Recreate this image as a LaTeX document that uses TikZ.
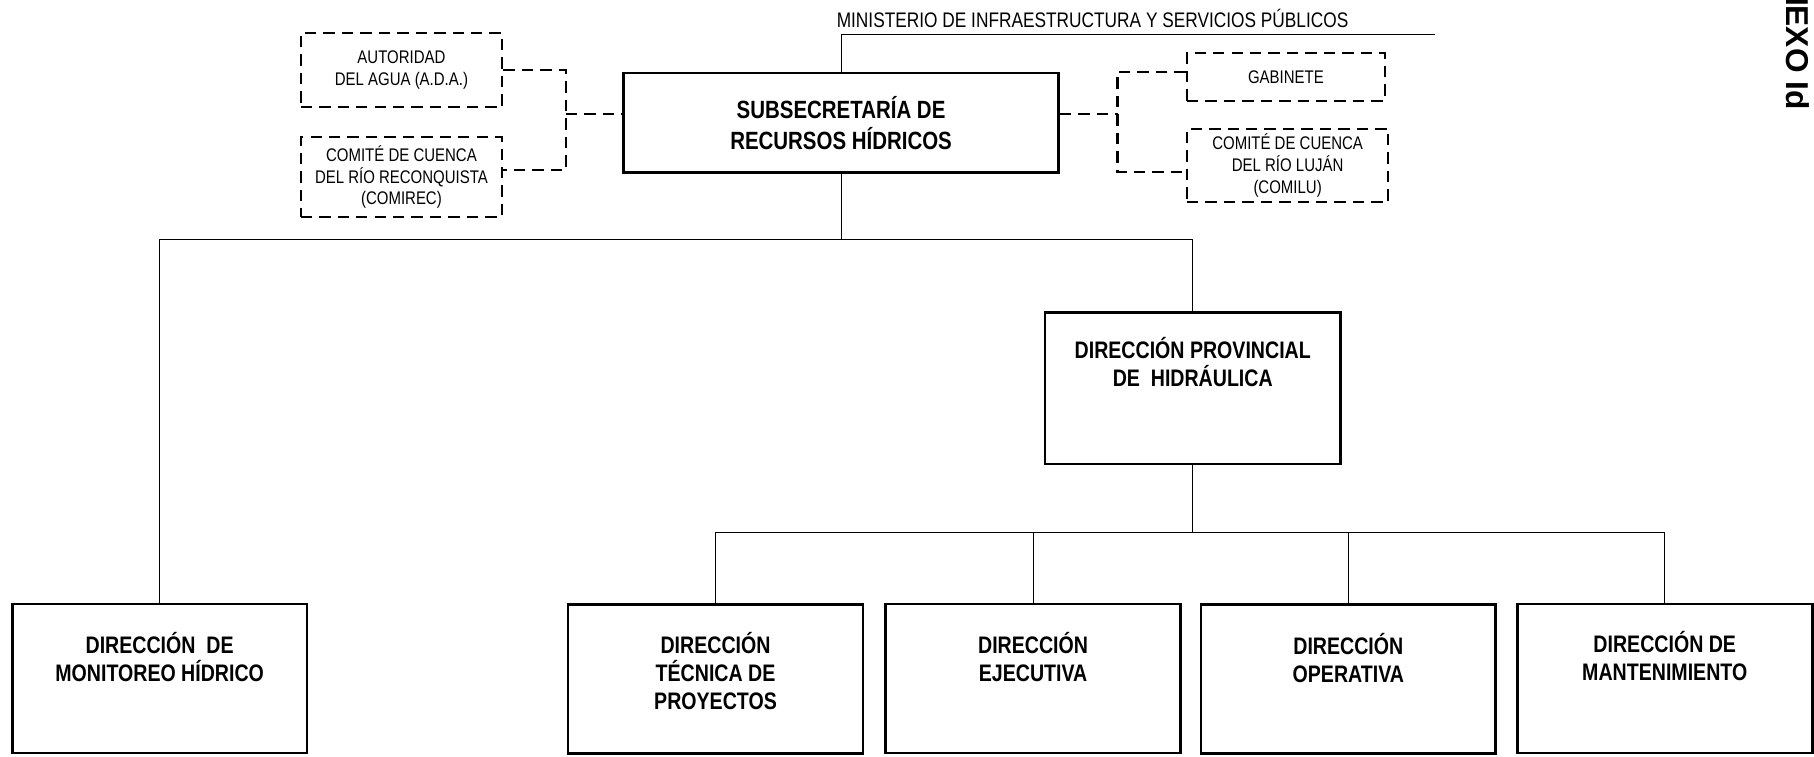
\documentclass[tikz,border=0pt]{standalone}
\usepackage{fontspec}
\setmainfont{Liberation Sans}[FakeStretch=0.82]
\newfontfamily\anexofont{Liberation Sans}
\usetikzlibrary{positioning}

\tikzset{
  orgln/.style={line width=0.6pt},
  dashln/.style={line width=1.3pt, dash pattern=on 6.5pt off 4pt},
  mainbox/.style={draw, line width=1.5pt, inner sep=0pt, align=center},
  dirbox/.style={mainbox, minimum width=5.9cm, minimum height=2.98cm},
  auxbox/.style={dashln, draw, inner sep=0pt, align=center, minimum width=4.03cm,
    font=\fontsize{10.4}{12.5}\selectfont},
  dirtxt/.style={align=center, inner sep=0pt, font=\bfseries\fontsize{13.6}{15.8}\selectfont},
}

\begin{document}
\begin{tikzpicture}[x=0.02314cm, y=-0.02314cm]
\useasboundingbox (0,0) rectangle (1568,653.5);

\node[mainbox, minimum width=8.7cm, minimum height=1.99cm,
  font=\bfseries\fontsize{14.2}{17.7}\selectfont] (sub) at (727,106)
  {SUBSECRETARÍA DE\\RECURSOS HÍDRICOS};
\node[anchor=base west, inner sep=0pt, font=\fontsize{12}{14}\selectfont] (min) at (723,24)
  {MINISTERIO DE INFRAESTRUCTURA Y SERVICIOS PÚBLICOS};
\coordinate (minr) at (1240,30);
\draw[orgln] (sub.north) |- (minr);

\node[auxbox, minimum height=1.48cm] (ada) at (347,60.5) {AUTORIDAD\\DEL AGUA (A.D.A.)};
\node[auxbox, minimum height=1.59cm] (comirec) at (347,153)
  {COMITÉ DE CUENCA\\DEL RÍO RECONQUISTA\\(COMIREC)};
\node[auxbox, minimum width=3.96cm, minimum height=0.95cm] (gab) at (1111.5,66.5) {GABINETE};
\node[auxbox, minimum height=1.47cm] (comilu) at (1113,143)
  {COMITÉ DE CUENCA\\DEL RÍO LUJÁN\\(COMILU)};

\coordinate (lbr) at (489,98.5);
\coordinate (rbr) at (966,98.5);
\draw[dashln] (ada.east) -| (lbr) |- ([yshift=0.14cm]comirec.east);
\draw[dashln] (lbr) -- (lbr -| sub.west);
\draw[dashln] ([yshift=0.1cm]gab.west) -| (rbr) |- ([yshift=-0.13cm]comilu.west);
\draw[dashln] (sub.east |- rbr) -- (rbr);

\node[mainbox, minimum width=5.92cm, minimum height=3.03cm] (prov) at (1031,335.5) {};
\node[dirtxt, below=0.52cm of prov.north] (provt) {DIRECCIÓN PROVINCIAL\\DE~ HIDRÁULICA};

\node[dirbox] (moni) at (138,586.5) {};
\node[dirbox] (tec) at (618.5,587) {};
\node[dirbox] (eje) at (893,586.5) {};
\node[dirbox] (ope) at (1165.5,587) {};
\node[dirbox] (man) at (1439,586.5) {};
\node[dirtxt, below=0.58cm of moni.north] (monit) {DIRECCIÓN~ DE\\MONITOREO HÍDRICO};
\node[dirtxt, below=0.58cm of tec.north] (tect) {DIRECCIÓN\\TÉCNICA DE\\PROYECTOS};
\node[dirtxt, below=0.58cm of eje.north] (ejet) {DIRECCIÓN\\EJECUTIVA};
\node[dirtxt, below=0.6cm of ope.north] (opet) {DIRECCIÓN\\OPERATIVA};
\node[dirtxt, below=0.56cm of man.north] (mant) {DIRECCIÓN DE\\MANTENIMIENTO};

\coordinate (bus1) at (0,207);
\coordinate (bus2) at (0,460);
\draw[orgln] (sub.south) -- (sub.south |- bus1);
\draw[orgln] (moni.north) |- (prov.north |- bus1) -- (prov.north);
\draw[orgln] (prov.south) -- (prov.south |- bus2);
\draw[orgln] (tec.north) |- (man.north |- bus2) -- (man.north);
\foreach \n in {eje,ope}
  \draw[orgln] (\n.north) -- (\n.north |- bus2);

\begin{scope}
\clip (0,0) rectangle (1568,653.5);
\node[rotate=-90, anchor=base east, inner sep=0pt,
  font=\anexofont\bfseries\fontsize{18}{20}\selectfont] (anexo) at (1544,95) {ANEXO Id};
\end{scope}
\end{tikzpicture}
\end{document}
